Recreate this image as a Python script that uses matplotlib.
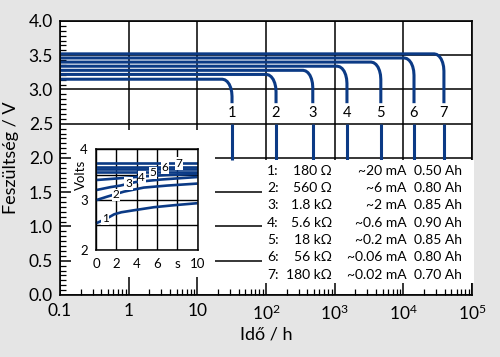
import matplotlib
matplotlib.use('Agg')
import matplotlib.pyplot as plt
from matplotlib.patches import Rectangle
from matplotlib.ticker import FixedLocator, LogLocator, MultipleLocator, NullFormatter
from matplotlib.transforms import blended_transform_factory

FONT = ['Lato', 'DejaVu Sans']
plt.rcParams['font.family'] = FONT
plt.rcParams['mathtext.fontset'] = 'custom'
plt.rcParams['mathtext.rm'] = 'Lato'

BLUE = '#0b3a85'
BG = '#e5e5e5'

# ---------------- data ----------------
curve_ids = ['1', '2', '3', '4', '5', '6', '7']
plateau_v = [3.15, 3.22, 3.28, 3.34, 3.40, 3.46, 3.52]
end_time_h = [32, 140, 480, 1510, 4700, 14300, 39000]
start_time_h = 0.1
# knee shape: offset in decades before the drop, and volts below plateau
knee_dlog = [-0.14, -0.104, -0.070, -0.041, -0.019, -0.005, 0.0]
knee_dv = [0.0, -0.009, -0.034, -0.073, -0.125, -0.185, -0.25]
cutoff_v_upper = 2.80
cutoff_v_lower = 2.50
final_v = 1.97
label_v = 2.65

x_ticks = [0.1, 1, 10, 100, 1000, 1e4, 1e5]
x_ticklabels = ['0.1', '1', '10', r'$\mathregular{10^2}$', r'$\mathregular{10^3}$',
                r'$\mathregular{10^4}$', r'$\mathregular{10^5}$']
y_ticks = [0.0, 0.5, 1.0, 1.5, 2.0, 2.5, 3.0, 3.5, 4.0]

legend_num = ['1:', '2:', '3:', '4:', '5:', '6:', '7:']
legend_res = ['180 Ω', '560 Ω', '1.8 kΩ', '5.6 kΩ', '18 kΩ', '56 kΩ', '180 kΩ']
legend_cur = ['~20 mA', '~6 mA', '~2 mA', '~0.6 mA', '~0.2 mA', '~0.06 mA', '~0.02 mA']
legend_cap = ['0.50 Ah', '0.80 Ah', '0.85 Ah', '0.90 Ah', '0.85 Ah', '0.80 Ah', '0.70 Ah']
legend_row_v = [1.815, 1.562, 1.309, 1.056, 0.803, 0.550, 0.297]

# inset (first seconds)
inset_t1 = [0, 1.0, 1.8, 2.5, 3.75, 5.7, 7.7, 10]
inset_v1 = [2.53, 2.62, 2.71, 2.75, 2.79, 2.85, 2.89, 2.93]
inset_t2 = [0, 1.1, 2.76, 4.7, 7.0, 10]
inset_v2 = [2.99, 3.06, 3.16, 3.24, 3.28, 3.32]
inset_t3 = [0, 1.45, 2.4, 3.9, 6.4, 10]
inset_v3 = [3.19, 3.25, 3.28, 3.35, 3.40, 3.45]
inset_t4 = [0, 2.0, 4.5, 7.0, 10]
inset_v4 = [3.39, 3.42, 3.46, 3.49, 3.51]
inset_flat_v = [3.55, 3.60, 3.65, 3.72]
inset_label_t = [0.9, 1.95, 3.2, 4.5, 5.6, 6.8, 8.15]
inset_label_v = [2.62, 3.10, 3.32, 3.44, 3.53, 3.63, 3.72]

# ---------------- figure ----------------
fig = plt.figure(figsize=(5.0, 3.57), dpi=100)
fig.patch.set_facecolor(BG)
ax = fig.add_axes([0.12, 0.1737, 0.824, 0.7675])
ax.set_facecolor('white')
ax.set_axisbelow(True)
ax.set_xscale('log')
ax.set_xlim(0.1, 1e5)
ax.set_ylim(0, 4)

ax.xaxis.set_major_locator(FixedLocator(x_ticks))
ax.set_xticklabels(x_ticklabels)
ax.xaxis.set_minor_locator(LogLocator(base=10, subs=range(2, 10)))
ax.xaxis.set_minor_formatter(NullFormatter())
ax.set_yticks(y_ticks)
ax.set_yticklabels([f'{v:.1f}' for v in y_ticks])
ax.yaxis.set_minor_locator(MultipleLocator(0.5 / 7))

ax.tick_params(which='major', direction='in', length=0, labelsize=12.5, pad=6)
ax.tick_params(axis='y', which='major', pad=5)
ax.tick_params(which='minor', direction='in', length=4.5, width=0.9, color='black')
ax.grid(True, which='major', color='black', lw=1.1)
for s in ax.spines.values():
    s.set_linewidth(1.2)

ax.set_xlabel('Idő / h', fontsize=13, labelpad=3)
ax.set_ylabel('Feszültség / V', fontsize=13, labelpad=7)

# main curves
for cid, pv, te in zip(curve_ids, plateau_v, end_time_h):
    t = [start_time_h] + [te * 10 ** d for d in knee_dlog] + [te]
    v = [pv] + [pv + d for d in knee_dv] + [cutoff_v_upper]
    ax.plot(t, v, color=BLUE, lw=2.2, solid_capstyle='butt', solid_joinstyle='round', zorder=2)
    ax.plot([te, te], [cutoff_v_lower, final_v], color=BLUE, lw=2.2,
            solid_capstyle='butt', zorder=2)
    ax.text(te, label_v, cid, fontsize=10.5, ha='center', va='center', zorder=4)

# white boxes behind inset and legend table
ax.add_patch(Rectangle((0.026, 0.0657), 0.350, 0.536, transform=ax.transAxes,
                       facecolor='white', edgecolor='none', zorder=1, clip_on=False))
ax.add_patch(Rectangle((0.490, 0.0438), 0.514, 0.449, transform=ax.transAxes,
                       facecolor='white', edgecolor='none', zorder=2.6, clip_on=False))

# legend table
tr = blended_transform_factory(ax.transAxes, ax.transData)
for n, r, c, a, yv in zip(legend_num, legend_res, legend_cur, legend_cap, legend_row_v):
    kw = dict(transform=tr, fontsize=10, va='center', zorder=5)
    ax.text(0.503, yv, n, ha='left', **kw)
    ax.text(0.660, yv, r, ha='right', **kw)
    ax.text(0.8415, yv, c, ha='right', **kw)
    ax.text(0.9757, yv, a, ha='right', **kw)

# inset
axi = fig.add_axes([0.192, 0.2997, 0.203, 0.282])
axi.set_facecolor('white')
axi.set_axisbelow(True)
axi.set_xlim(0, 10)
axi.set_ylim(2, 4)
axi.set_xticks([0, 2, 4, 6, 8, 10])
axi.set_xticklabels(['0', '2', '4', '6', 's', '10'])
axi.set_yticks([2, 3, 4])
axi.set_yticks([2.5, 3.5], minor=True)
axi.tick_params(which='both', length=0, labelsize=9.5)
axi.tick_params(axis='x', pad=6)
axi.tick_params(axis='y', pad=6)
axi.grid(True, which='both', color='black', lw=1.0)
for s in axi.spines.values():
    s.set_linewidth(1.1)
axi.text(-0.145, 0.745, 'Volts', rotation=90, fontsize=9.5, ha='center', va='center',
         transform=axi.transAxes)

for tt, vv in [(inset_t1, inset_v1), (inset_t2, inset_v2), (inset_t3, inset_v3),
               (inset_t4, inset_v4)]:
    axi.plot(tt, vv, color=BLUE, lw=1.9, solid_capstyle='butt', clip_on=False)
for fv in inset_flat_v:
    axi.plot([0, 10], [fv, fv], color=BLUE, lw=1.9, solid_capstyle='butt')
for cid, lt, lv in zip(curve_ids, inset_label_t, inset_label_v):
    axi.text(lt, lv, cid, fontsize=8.5, ha='center', va='center', zorder=5,
             bbox=dict(boxstyle='square,pad=0.05', facecolor='white', edgecolor='none'))

fig.savefig('out.png', dpi=100, facecolor=fig.get_facecolor())
